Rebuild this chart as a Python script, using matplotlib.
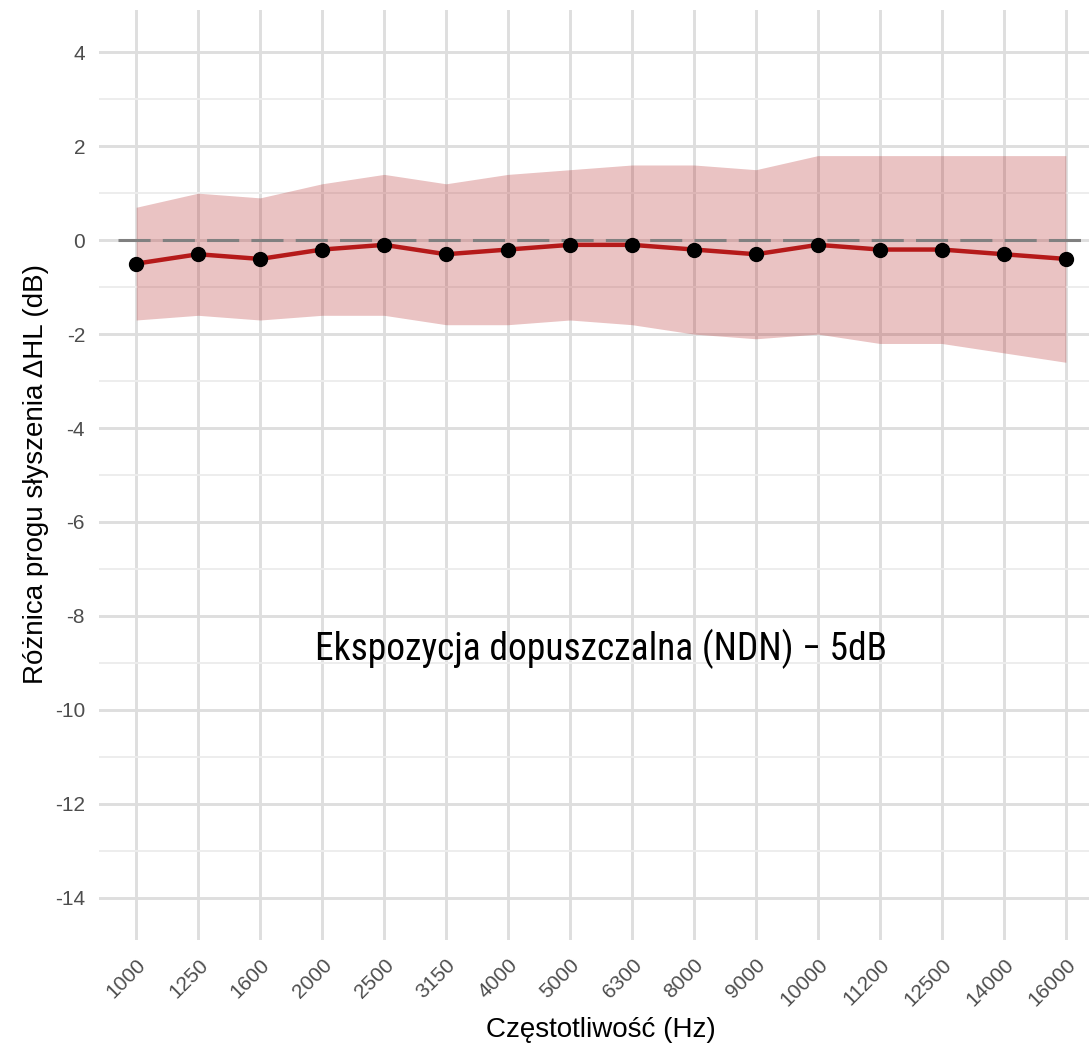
import matplotlib
matplotlib.use("Agg")
import matplotlib.pyplot as plt
from matplotlib import font_manager

# frequencies (Hz) and mean threshold shift with its band
freqs = ["1000", "1250", "1600", "2000", "2500", "3150", "4000", "5000",
         "6300", "8000", "9000", "10000", "11200", "12500", "14000", "16000"]
mean_dhl = [-0.5, -0.3, -0.4, -0.2, -0.1, -0.3, -0.2, -0.1,
            -0.1, -0.2, -0.3, -0.1, -0.2, -0.2, -0.3, -0.4]
upper = [0.7, 1.0, 0.9, 1.2, 1.4, 1.2, 1.4, 1.5,
         1.6, 1.6, 1.5, 1.8, 1.8, 1.8, 1.8, 1.8]
lower = [-1.7, -1.6, -1.7, -1.6, -1.6, -1.8, -1.8, -1.7,
         -1.8, -2.0, -2.1, -2.0, -2.2, -2.2, -2.4, -2.6]
yticks = [4, 2, 0, -2, -4, -6, -8, -10, -12, -14]
yminor = [3, 1, -1, -3, -5, -7, -9, -11, -13]
note = "Ekspozycja dopuszczalna (NDN) \u2212 5dB"

plt.rcParams['font.family'] = ['Liberation Sans', 'DejaVu Sans']
plt.rcParams['axes.unicode_minus'] = False

installed = {f.name for f in font_manager.fontManager.ttflist}
note_font = 'Roboto Condensed' if 'Roboto Condensed' in installed else 'Roboto'

W, H = 1089, 1047
fig = plt.figure(figsize=(W / 100, H / 100), dpi=100)
ax = fig.add_axes([99 / W, 107 / H, 1004 / W, 930 / H])

x = list(range(1, len(freqs) + 1))

ax.set_xlim(0.4, len(freqs) + 0.6)
ax.set_ylim(-14.9, 4.9)

# grid like theme_minimal
for s in ax.spines.values():
    s.set_visible(False)
ax.set_yticks(yticks)
ax.set_yticks(yminor, minor=True)
ax.set_xticks(x)
ax.set_xticklabels(freqs, rotation=45, ha='right', va='top', rotation_mode='anchor')
ax.grid(True, which='major', color='#dedede', linewidth=2.1, zorder=0)
ax.grid(True, which='minor', axis='y', color='#ededed', linewidth=1.4, zorder=0)
ax.set_axisbelow(True)
ax.tick_params(axis='both', which='both', length=0, labelsize=15, labelcolor='#4d4d4d')
ax.tick_params(axis='y', pad=10)
ax.tick_params(axis='x', pad=11)

ax.fill_between(x, lower, upper, color='#b22222', alpha=0.27, linewidth=0, zorder=2)
ax.plot([0.7, len(freqs) + 0.6], [0, 0], color='#808080', linewidth=2.2,
        dashes=(10.5, 4), zorder=3)
ax.plot(x, mean_dhl, color='#b51a1a', linewidth=3.2, zorder=4)
ax.plot(x, mean_dhl, 'o', color='black', markersize=10, zorder=5)

ax.text(8.5, -8.7, note, ha='center', va='center', fontsize=27,
        family=note_font, fontstretch='condensed', color='black')

fig.text(601 / W, 1 - 1030 / H, "Częstotliwość (Hz)", ha='center', va='center',
         fontsize=20, color='black')
fig.text(36 / W, 1 - 474 / H, "Różnica progu słyszenia ΔHL (dB)", ha='center',
         va='center', rotation=90, fontsize=20, color='black')

fig.savefig("out.png", dpi=100)
